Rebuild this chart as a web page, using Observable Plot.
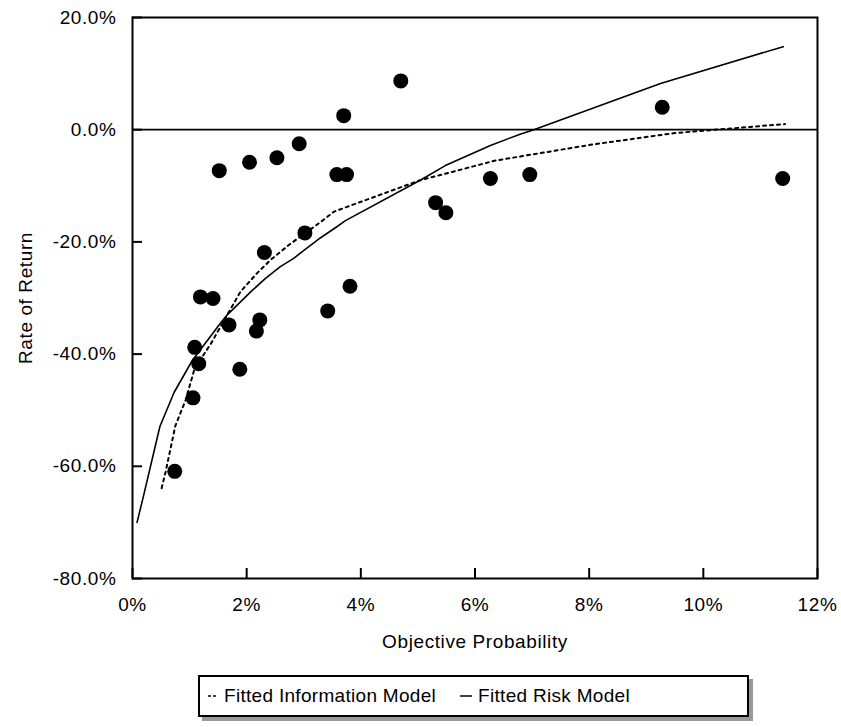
<!DOCTYPE html>
<html>
<head>
<meta charset="utf-8">
<script src="https://cdn.jsdelivr.net/npm/d3@7"></script>
<script src="https://cdn.jsdelivr.net/npm/@observablehq/plot@0.6"></script>
<style>
  html, body { margin: 0; padding: 0; background: #fff; }
  body { width: 841px; height: 727px; position: relative; font-family: "Liberation Sans", Arial, sans-serif; }
  #chart { position: absolute; left: 0; top: 0; }
  #chart svg text { letter-spacing: 0.6px; }
  #legend {
    position: absolute; left: 198px; top: 675px; width: 547px; height: 38px;
    border: 2px solid #000; background: #fff; box-shadow: 4px 4px 0 #9a9a9a;
    font-size: 19px; letter-spacing: 0.3px; color: #000; display: flex; align-items: center; white-space: nowrap;
  }
  #legend .item { display: inline-flex; align-items: center; }
  #legend svg { margin-right: 6px; }
</style>
</head>
<body>
<div id="chart"></div>
<div id="legend">
  <span class="item" style="margin-left:8px"><svg width="10" height="4"><line x1="0" y1="2" x2="10" y2="2" stroke="#000" stroke-width="1.5" stroke-dasharray="3,2"/></svg>Fitted Information Model</span>
  <span class="item" style="margin-left:24px"><svg width="12" height="4"><line x1="0" y1="2" x2="12" y2="2" stroke="#000" stroke-width="1.5"/></svg>Fitted Risk Model</span>
</div>
<script>
// Observed data: objective probability (%) vs rate of return (%)
const probability = [0.74, 1.06, 1.09, 1.16, 1.19, 1.41, 1.52, 1.69, 1.88, 2.05, 2.17, 2.23, 2.31, 2.53, 2.92, 3.02, 3.42, 3.58, 3.70, 3.75, 3.81, 4.70, 5.31, 5.49, 6.27, 6.96, 9.28, 11.39];
const returns     = [-60.9, -47.8, -38.8, -41.7, -29.8, -30.1, -7.3, -34.8, -42.7, -5.8, -35.9, -33.9, -21.9, -5.0, -2.5, -18.4, -32.3, -8.0, 2.5, -8.0, -27.9, 8.7, -13.0, -14.8, -8.7, -8.0, 4.0, -8.7];

// Fitted Risk Model curve
const riskX = [0.08, 0.19, 0.48, 0.73, 1.05, 1.54, 1.66, 2.07, 2.33, 2.59, 2.83, 2.94, 3.29, 3.58, 3.73, 5.04, 5.48, 6.27, 6.79, 7.03, 9.25, 11.40];
const riskY = [-70.0, -65.4, -52.9, -46.8, -41.1, -34.5, -33.0, -28.9, -26.5, -24.4, -22.9, -22.0, -19.3, -17.3, -16.2, -9.0, -6.4, -2.8, -0.8, 0.0, 8.25, 14.8];

// Fitted Information Model curve
const infoX = [0.51, 0.58, 0.75, 0.93, 1.09, 1.37, 1.66, 1.89, 2.18, 2.42, 2.77, 3.29, 3.53, 3.80, 5.04, 6.36, 8.05, 9.50, 10.82, 11.43];
const infoY = [-63.9, -61.0, -52.8, -48.2, -42.5, -38.2, -33.0, -28.9, -25.6, -23.2, -20.3, -16.5, -14.6, -13.6, -9.0, -5.5, -2.65, -0.6, 0.5, 1.0];

const xTicks = [0, 2, 4, 6, 8, 10, 12];
const yTicks = [-80, -60, -40, -20, 0, 20];
const xTitle = "Objective Probability";
const yTitle = "Rate of Return";

const points = probability.map((p, i) => ({x: p, y: returns[i]}));
const risk = riskX.map((p, i) => ({x: p, y: riskY[i]}));
const info = infoX.map((p, i) => ({x: p, y: infoY[i]}));

const W = 841, H = 660, mL = 132, mR = 24, mT = 17, mB = 82, TICK = 10;

const chart = Plot.plot({
  width: W,
  height: H,
  marginLeft: mL,
  marginRight: mR,
  marginTop: mT,
  marginBottom: mB,
  style: {fontFamily: "'Liberation Sans', Arial, sans-serif", fontSize: "19px", color: "#000", background: "#fff"},
  x: {domain: [0, 12], ticks: xTicks},
  y: {domain: [-80, 20], ticks: yTicks},
  marks: [
    Plot.ruleY([0], {stroke: "#000", strokeWidth: 1.8}),
    Plot.line(risk, {x: "x", y: "y", stroke: "#000", strokeWidth: 1.6}),
    Plot.line(info, {x: "x", y: "y", stroke: "#000", strokeWidth: 2, strokeDasharray: "3,4"}),
    Plot.dot(points, {x: "x", y: "y", r: 7.5, fill: "#000", stroke: "none"}),
    Plot.frame({stroke: "#000", strokeWidth: 2}),
    // inward-pointing tick marks
    Plot.ruleX(xTicks, {x: d => d, insetTop: (H - mT - mB) - TICK, stroke: "#000", strokeWidth: 2}),
    Plot.ruleY(yTicks, {y: d => d, insetRight: (W - mL - mR) - TICK, stroke: "#000", strokeWidth: 2}),
    Plot.axisX({ticks: xTicks, tickSize: 0, tickPadding: 19, tickFormat: d => d + "%", label: null, fontSize: 19}),
    Plot.axisY({ticks: yTicks, tickSize: 0, tickPadding: 16, tickFormat: d => d.toFixed(1) + "%", label: null, fontSize: 19}),
    Plot.text([xTitle], {frameAnchor: "bottom", dy: 63, lineAnchor: "middle", textAnchor: "middle", text: d => d, fontSize: 19}),
    Plot.text([yTitle], {frameAnchor: "left", dx: -107, rotate: -90, textAnchor: "middle", lineAnchor: "middle", text: d => d, fontSize: 19})
  ]
});
document.getElementById("chart").appendChild(chart);
</script>
</body>
</html>
